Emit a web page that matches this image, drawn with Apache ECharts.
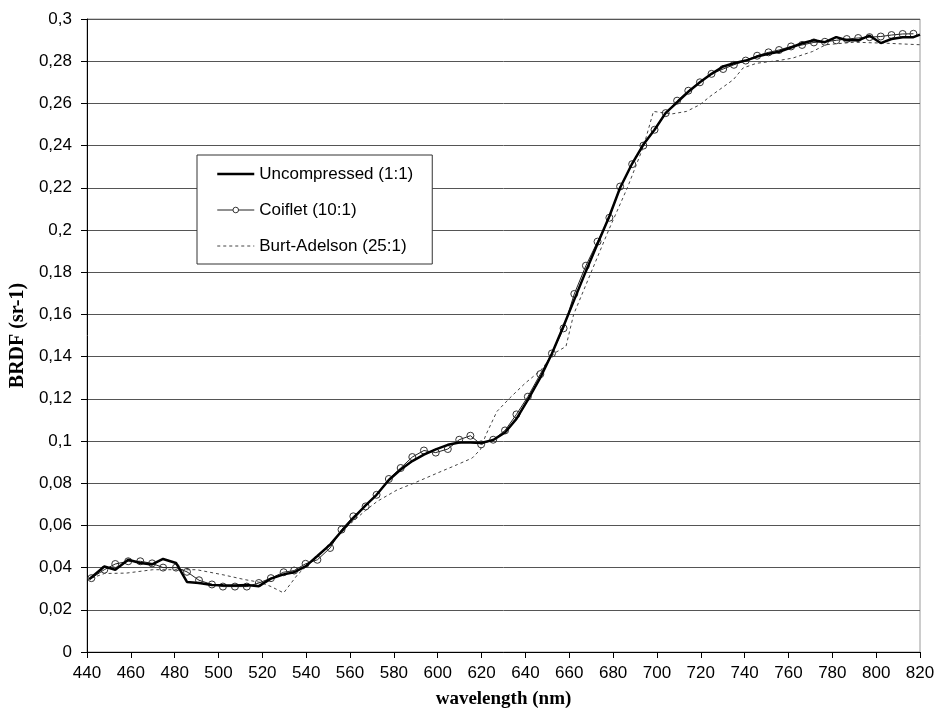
<!DOCTYPE html>
<html><head><meta charset="utf-8">
<script src="https://cdn.jsdelivr.net/npm/echarts@6/dist/echarts.min.js"></script>
<style>html,body{margin:0;padding:0;background:#fff}#c{width:939px;height:717px}</style>
</head><body><div id="c"></div>
<script>
// Coiflet (10:1) sample wavelengths and values
const coifX = [442.0, 447.9, 452.9, 458.8, 464.3, 469.7, 474.7, 480.6, 485.6, 491.1, 497.0, 502.0, 507.5, 512.9, 518.4, 523.9, 529.7, 534.5, 539.7, 545.1, 550.9, 556.1, 561.5, 567.1, 572.1, 577.7, 583.1, 588.4, 593.7, 599.1, 604.6, 609.8, 614.9, 619.8, 625.3, 630.7, 635.9, 641.1, 646.8, 652.1, 657.4, 662.3, 667.6, 672.9, 678.3, 683.2, 688.7, 693.8, 698.9, 704.0, 709.2, 714.3, 719.6, 724.9, 730.2, 735.1, 740.5, 745.7, 750.9, 755.7, 761.2, 766.2, 771.6, 776.6, 781.8, 786.6, 791.8, 797.0, 802.1, 807.0, 812.1, 817.0];
const coifY = [0.035, 0.039, 0.0417, 0.043, 0.043, 0.042, 0.040, 0.040, 0.038, 0.034, 0.032, 0.031, 0.031, 0.031, 0.0327, 0.035, 0.0378, 0.0386, 0.0418, 0.0437, 0.0493, 0.058, 0.0643, 0.069, 0.0745, 0.082, 0.0872, 0.0924, 0.0955, 0.0945, 0.0962, 0.1006, 0.1025, 0.0984, 0.1006, 0.105, 0.1126, 0.121, 0.1317, 0.1415, 0.1534, 0.1697, 0.1831, 0.1945, 0.2058, 0.2206, 0.2312, 0.240, 0.2475, 0.2554, 0.2613, 0.266, 0.270, 0.274, 0.2763, 0.2783, 0.2803, 0.2826, 0.2842, 0.2853, 0.287, 0.2877, 0.2889, 0.2892, 0.2899, 0.2905, 0.291, 0.2914, 0.2917, 0.2924, 0.2929, 0.293];

// Uncompressed (1:1)
const uncX = [441.0, 447.9, 452.9, 458.8, 464.3, 469.7, 474.7, 480.6, 485.6, 491.1, 497.0, 502.0, 507.5, 512.9, 518.4, 523.9, 529.7, 534.5, 539.7, 545.1, 550.9, 556.1, 561.5, 567.1, 572.1, 577.7, 583.1, 588.4, 593.7, 599.1, 604.6, 609.8, 614.9, 619.8, 625.3, 630.7, 635.9, 641.1, 646.8, 652.1, 657.4, 662.3, 667.6, 672.9, 678.3, 683.2, 688.7, 693.8, 698.9, 704.0, 709.2, 714.3, 719.6, 724.9, 730.2, 735.1, 740.5, 745.7, 750.9, 755.7, 761.2, 766.2, 771.6, 776.6, 781.8, 786.6, 791.8, 797.0, 802.1, 807.0, 812.1, 817.0, 820.0];
const uncY = [0.0345, 0.0405, 0.039, 0.0437, 0.0422, 0.0415, 0.0441, 0.0422, 0.0332, 0.0327, 0.0318, 0.0316, 0.0315, 0.0318, 0.0312, 0.0348, 0.0368, 0.0378, 0.0406, 0.0455, 0.0509, 0.0572, 0.0635, 0.0695, 0.0745, 0.0815, 0.0865, 0.0905, 0.0935, 0.096, 0.0982, 0.0993, 0.0993, 0.0991, 0.1005, 0.104, 0.1105, 0.1195, 0.130, 0.1415, 0.1545, 0.167, 0.1805, 0.1935, 0.2065, 0.220, 0.2315, 0.2405, 0.2475, 0.2555, 0.2605, 0.2655, 0.270, 0.274, 0.2775, 0.279, 0.2803, 0.2822, 0.2835, 0.2845, 0.2865, 0.2885, 0.2899, 0.289, 0.2914, 0.2899, 0.2899, 0.2921, 0.2886, 0.2905, 0.2914, 0.2914, 0.2926];

// Burt-Adelson (25:1)
const baX = [442, 448, 458, 470, 480, 490, 502, 512, 519, 524, 529.7, 536, 540, 546, 551, 556, 562, 567, 572.4, 581.6, 589.1, 599.8, 608.9, 615.7, 619.5, 622, 627, 633, 640, 647, 653, 658.5, 662, 670, 678, 686.5, 694, 698.4, 706.7, 713.5, 719.6, 724.2, 734.8, 739.3, 745.4, 756, 762, 771, 777, 790, 805, 820];
const baY = [0.035, 0.0372, 0.0374, 0.039, 0.039, 0.039, 0.0366, 0.0343, 0.033, 0.031, 0.028, 0.0366, 0.0406, 0.046, 0.051, 0.057, 0.0625, 0.067, 0.0714, 0.0769, 0.080, 0.0848, 0.0888, 0.0919, 0.096, 0.103, 0.114, 0.1205, 0.1275, 0.1335, 0.1415, 0.1448, 0.16, 0.18, 0.2, 0.22, 0.24, 0.2562, 0.255, 0.2562, 0.2594, 0.2633, 0.2712, 0.2768, 0.279, 0.2804, 0.2815, 0.2846, 0.2878, 0.289, 0.2885, 0.2878];

const seriesNames = ['Uncompressed (1:1)', 'Coiflet (10:1)', 'Burt-Adelson (25:1)'];
const xTitle = 'wavelength (nm)';
const yTitle = 'BRDF (sr-1)';

const pairs = (xs, ys) => xs.map((x, i) => [x, ys[i]]);
const SANS = '"Liberation Sans", Arial, sans-serif';
const SERIF = '"Liberation Serif", "Times New Roman", serif';
const HIDDEN = {color: 'rgba(0,0,0,0)', borderColor: 'rgba(0,0,0,0)', borderWidth: 0};

const chart = echarts.init(document.getElementById('c'), null, {renderer: 'canvas'});
chart.setOption({
  animation: false,
  backgroundColor: '#ffffff',
  grid: {left: 86, right: 19, top: 19, bottom: 65, show: true, borderColor: '#9a9a9a', borderWidth: 1, backgroundColor: 'transparent'},
  legend: {
    orient: 'vertical', left: 197, top: 155,
    data: [
      {name: seriesNames[0], itemStyle: HIDDEN, lineStyle: {width: 2.5, color: '#000'}},
      {name: seriesNames[1], lineStyle: {width: 1, color: '#222'}, itemStyle: {color: '#fff', borderColor: '#333', borderWidth: 1}},
      {name: seriesNames[2], itemStyle: HIDDEN, lineStyle: {width: 1, color: '#444', type: [3, 3]}}
    ],
    backgroundColor: '#ffffff', borderColor: '#333', borderWidth: 1,
    padding: [9, 19, 8, 19],
    itemWidth: 37, itemHeight: 7, itemGap: 16,
    textStyle: {fontFamily: SANS, fontSize: 17, color: '#000', lineHeight: 20}
  },
  xAxis: {
    type: 'value', min: 440, max: 820, interval: 20,
    name: xTitle, nameLocation: 'middle', nameGap: 38,
    nameTextStyle: {fontFamily: SERIF, fontWeight: 'bold', fontSize: 19, color: '#000'},
    axisLine: {show: true, onZero: false, lineStyle: {color: '#000', width: 1}},
    axisTick: {show: true, inside: false, length: 6, lineStyle: {color: '#000'}},
    axisLabel: {fontFamily: SANS, fontSize: 17, color: '#000', margin: 13},
    splitLine: {show: false}
  },
  yAxis: {
    type: 'value', min: 0, max: 0.3, interval: 0.02,
    name: yTitle, nameLocation: 'middle', nameGap: 59,
    nameTextStyle: {fontFamily: SERIF, fontWeight: 'bold', fontSize: 20, color: '#000'},
    axisLine: {show: true, lineStyle: {color: '#000', width: 1}},
    axisTick: {show: true, inside: false, length: 6, lineStyle: {color: '#000'}},
    axisLabel: {fontFamily: SANS, fontSize: 17, color: '#000', margin: 15,
      formatter: v => String(Math.round(v * 100) / 100).replace('.', ',')},
    splitLine: {show: true, lineStyle: {color: '#555', width: 1}}
  },
  series: [
    {
      name: seriesNames[0], type: 'line', data: pairs(uncX, uncY),
      symbol: 'none', z: 4,
      lineStyle: {color: '#000', width: 2.5}, itemStyle: {color: '#000'}
    },
    {
      name: seriesNames[1], type: 'line', data: pairs(coifX, coifY),
      symbol: 'circle', symbolSize: 7, showSymbol: true, showAllSymbol: true, z: 3,
      lineStyle: {color: '#222', width: 1},
      itemStyle: {color: 'rgba(255,255,255,0)', borderColor: '#333', borderWidth: 1}
    },
    {
      name: seriesNames[2], type: 'line', data: pairs(baX, baY),
      symbol: 'none', z: 2,
      lineStyle: {color: '#444', width: 1, type: [3, 3]}, itemStyle: {color: '#444'}
    }
  ]
});
</script></body></html>
